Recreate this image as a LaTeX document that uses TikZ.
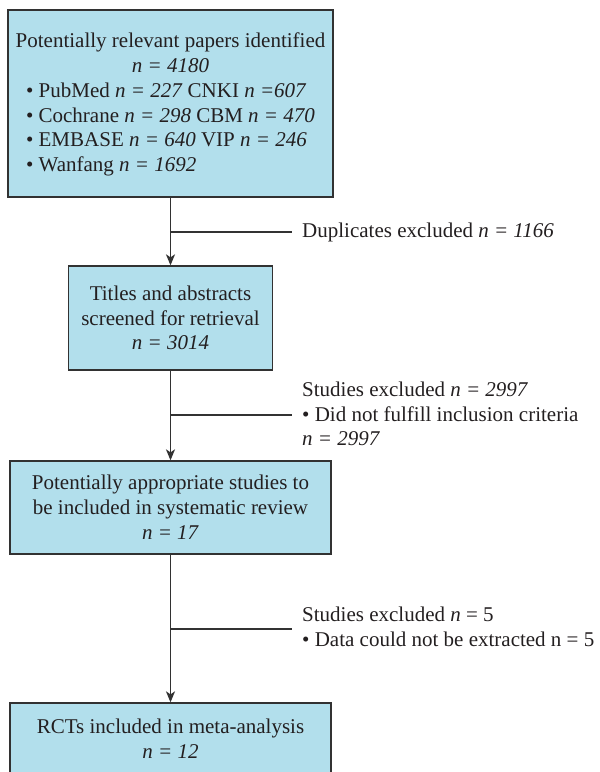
\documentclass[tikz,border=0pt]{standalone}
\usepackage{fontspec}
\setmainfont{Liberation Serif}
\usetikzlibrary{arrows.meta,calc}
\definecolor{boxfill}{RGB}{178,223,236}
\definecolor{boxline}{RGB}{50,50,50}
\definecolor{txt}{RGB}{35,31,32}
\tikzset{
  flowbox/.style={draw=boxline, line width=1.3pt, fill=boxfill, inner sep=0pt,
    align=center, text=txt, font=\fontsize{21}{24.8}\selectfont},
  sidelabel/.style={anchor=west, inner xsep=10pt, inner ysep=0pt, align=left,
    text=txt, font=\fontsize{21}{24.8}\selectfont},
  flowarrow/.style={draw=boxline, line width=1.3pt, -{Stealth[length=11pt,width=9pt,inset=3pt]}},
  branch/.style={draw=boxline, line width=1.3pt}
}
\begin{document}
\begin{tikzpicture}[x=1pt,y=-1pt]
\useasboundingbox (0,0) rectangle (600,772);
\begin{scope}
\clip (0,0) rectangle (600,772);
\node[flowbox, minimum width=325pt, minimum height=187pt] (b1) at (170.5,103.5)
  {\rule{0pt}{20pt}Potentially relevant papers identified\\
   \textit{n = 4180}\\
   \begin{tabular}[t]{@{}l@{}}
   \textbullet{} PubMed \textit{n = 227} CNKI \textit{n =607}\\
   \textbullet{} Cochrane \textit{n = 298} CBM \textit{n = 470}\\
   \textbullet{} EMBASE \textit{n = 640} VIP \textit{n = 246}\\
   \textbullet{} Wanfang \textit{n = 1692}
   \end{tabular}};
\node[flowbox, minimum width=204pt, minimum height=104pt] (b2) at (170.5,318)
  {Titles and abstracts\\ screened for retrieval\\ \textit{n = 3014}};
\node[flowbox, minimum width=321pt, minimum height=93pt] (b3) at (170.5,507.5)
  {Potentially appropriate studies to\\ be included in systematic review\\ \textit{n = 17}};
\node[flowbox, minimum width=321pt, minimum height=72pt] (b4) at (170.5,739)
  {RCTs included in meta-analysis\\ \textit{n = 12}};

\draw[flowarrow] (b1) -- (b2);
\draw[flowarrow] (b2) -- (b3);
\draw[flowarrow] (b3) -- (b4);

\coordinate (c1) at (170.5,232);
\coordinate (c2) at (170.5,415);
\coordinate (c3) at (170.5,629);

\node[sidelabel] (l1) at (292,232) {Duplicates excluded \textit{n = 1166}};
\node[sidelabel] (l2) at (292,414) {Studies excluded \textit{n = 2997}\\
  \textbullet{} Did not fulfill inclusion criteria\\ \textit{n = 2997}};
\node[sidelabel] (l3) at (292,627) {Studies excluded \textit{n} = 5\\
  \textbullet{} Data could not be extracted n = 5};

\draw[branch] (c1) -- (c1 -| l1.west);
\draw[branch] (c2) -- (c2 -| l2.west);
\draw[branch] (c3) -- (c3 -| l3.west);
\end{scope}
\end{tikzpicture}
\end{document}
